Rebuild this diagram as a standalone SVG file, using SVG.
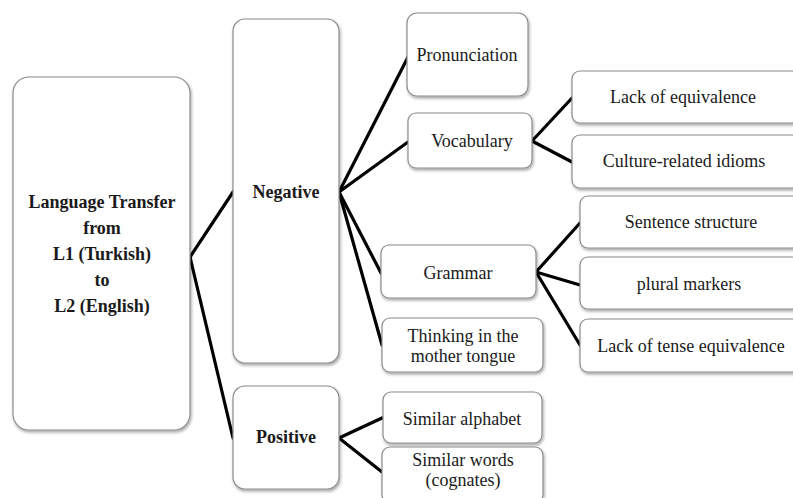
<svg xmlns="http://www.w3.org/2000/svg" width="793" height="498" viewBox="0 0 793 498">
<style>
  .box { fill: #ffffff; stroke: #8c8c8c; stroke-width: 1.2; filter: url(#sh); }
  .t { font-family: "Liberation Serif", "Times New Roman", serif; font-size: 18px; fill: #1a1a1a; text-anchor: middle; }
  .b { font-weight: bold; }
  .c line { stroke: #000; stroke-width: 3.2; stroke-linecap: round; }
</style>
<defs>
  <filter id="sh" x="-10%" y="-10%" width="130%" height="130%">
    <feDropShadow dx="1" dy="2" stdDeviation="1.5" flood-color="#000" flood-opacity="0.35"/>
  </filter>
</defs>
<rect width="793" height="498" fill="#ffffff"/>
<g id="connectors" class="c">
  <line x1="190" y1="257" x2="233" y2="192"/>
  <line x1="190" y1="257" x2="233" y2="438"/>
  <line x1="339" y1="192" x2="408" y2="57"/>
  <line x1="339" y1="192" x2="408" y2="142"/>
  <line x1="339" y1="192" x2="381" y2="273"/>
  <line x1="339" y1="192" x2="382" y2="345"/>
  <line x1="339" y1="438" x2="382" y2="418"/>
  <line x1="339" y1="438" x2="382" y2="472"/>
  <line x1="532" y1="141" x2="572" y2="98"/>
  <line x1="532" y1="141" x2="572" y2="162"/>
  <line x1="536" y1="272" x2="580" y2="223"/>
  <line x1="536" y1="272" x2="580" y2="285"/>
  <line x1="536" y1="272" x2="580" y2="345"/>
</g>
<g id="root">
  <rect class="box" x="13" y="77" width="177" height="353" rx="16"/>
  <text class="t b" x="102" y="208">Language Transfer</text>
  <text class="t b" x="102" y="234">from</text>
  <text class="t b" x="102" y="260">L1 (Turkish)</text>
  <text class="t b" x="102" y="286">to</text>
  <text class="t b" x="102" y="312">L2 (English)</text>
</g>
<g id="negative">
  <rect class="box" x="233" y="19" width="106" height="344" rx="12"/>
  <text class="t b" x="286" y="198">Negative</text>
</g>
<g id="positive">
  <rect class="box" x="233" y="386" width="106" height="103" rx="12"/>
  <text class="t b" x="286" y="443">Positive</text>
</g>
<g id="pronunciation">
  <rect class="box" x="407" y="13" width="121" height="83" rx="10"/>
  <text class="t" x="467" y="61">Pronunciation</text>
</g>
<g id="vocabulary">
  <rect class="box" x="408" y="113" width="124" height="55" rx="8"/>
  <text class="t" x="472" y="147">Vocabulary</text>
</g>
<g id="grammar">
  <rect class="box" x="381" y="245" width="155" height="53" rx="8"/>
  <text class="t" x="458" y="279">Grammar</text>
</g>
<g id="thinking">
  <rect class="box" x="382" y="318" width="161" height="54" rx="8"/>
  <text class="t" x="463" y="342">Thinking in the</text>
  <text class="t" x="463" y="362">mother tongue</text>
</g>
<g id="similar-alphabet">
  <rect class="box" x="383" y="392" width="159" height="51" rx="8"/>
  <text class="t" x="462" y="425">Similar alphabet</text>
</g>
<g id="similar-words">
  <rect class="box" x="382" y="447" width="161" height="56" rx="8"/>
  <text class="t" x="463" y="466">Similar words</text>
  <text class="t" x="463" y="486">(cognates)</text>
</g>
<g id="lack-equivalence">
  <rect class="box" x="572" y="71" width="228" height="52" rx="8"/>
  <text class="t" x="683" y="103">Lack of equivalence</text>
</g>
<g id="culture-idioms">
  <rect class="box" x="572" y="135" width="228" height="53" rx="8"/>
  <text class="t" x="684" y="167">Culture-related idioms</text>
</g>
<g id="sentence-structure">
  <rect class="box" x="580" y="196" width="220" height="52" rx="8"/>
  <text class="t" x="691" y="228">Sentence structure</text>
</g>
<g id="plural-markers">
  <rect class="box" x="580" y="257" width="220" height="52" rx="8"/>
  <text class="t" x="689" y="290">plural markers</text>
</g>
<g id="lack-tense">
  <rect class="box" x="580" y="319" width="220" height="53" rx="8"/>
  <text class="t" x="691" y="352">Lack of tense equivalence</text>
</g>
</svg>
